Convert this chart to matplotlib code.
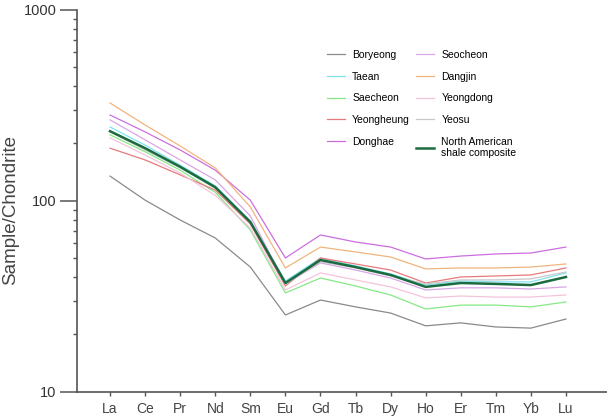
import numpy as np
import matplotlib
matplotlib.use('Agg')
import matplotlib.pyplot as plt

plt.rcParams['font.family'] = ['Liberation Sans', 'DejaVu Sans']

elements = ['La', 'Ce', 'Pr', 'Nd', 'Sm', 'Eu', 'Gd', 'Tb', 'Dy', 'Ho', 'Er', 'Tm', 'Yb', 'Lu']

boryeong   = [135, 101, 79.5, 64, 45.1, 25.3, 30.3, 27.9, 25.9, 22.2, 23.0, 21.9, 21.6, 24.1]
taean      = [244, 196, 154, 120, 78.6, 38.1, 50.3, 45.7, 41.5, 36.3, 38.1, 37.7, 37.7, 42.0]
saecheon   = [222, 181, 145, 111, 70.5, 33.0, 39.5, 35.9, 32.2, 27.2, 28.5, 28.5, 27.9, 29.6]
yeongheung = [189, 164, 137, 114, 75.8, 35.9, 50.3, 46.8, 43.5, 37.2, 40.0, 40.5, 41.0, 44.6]
donghae    = [282, 230, 185, 145, 101, 50.3, 66.4, 61.0, 57.4, 49.7, 51.5, 52.8, 53.4, 57.4]
seocheon   = [266, 209, 164, 129, 83.5, 36.8, 47.4, 43.5, 39.5, 34.2, 35.1, 35.1, 34.6, 35.5]
dangjin    = [326, 250, 194, 149, 93, 44.6, 57.4, 54.1, 50.9, 44.1, 44.6, 44.6, 45.1, 46.8]
yeongdong  = [214, 174, 140, 107, 72.2, 34.2, 42.0, 38.6, 35.5, 31.1, 31.8, 31.4, 31.4, 32.2]
yeosu      = [230, 185, 149, 117, 77.6, 36.8, 48.0, 44.6, 40.5, 36.8, 38.6, 38.6, 39.1, 42.5]
nasc       = [232, 189, 151, 118, 77.6, 37.2, 49.1, 45.1, 41.0, 35.5, 37.2, 36.8, 36.3, 40.0]

series = [
    ('Boryeong', boryeong, '#8a8a8a', 0.9),
    ('Taean', taean, '#7fe3f0', 0.9),
    ('Saecheon', saecheon, '#86e886', 0.9),
    ('Yeongheung', yeongheung, '#e87a7a', 0.9),
    ('Donghae', donghae, '#cc6ee0', 0.9),
    ('Seocheon', seocheon, '#d9a6e6', 0.9),
    ('Dangjin', dangjin, '#f0b47e', 0.9),
    ('Yeongdong', yeongdong, '#f4c4dc', 0.9),
    ('Yeosu', yeosu, '#c8c8c8', 0.9),
    ('North American\nshale composite', nasc, '#1c6b40', 1.8),
]

fig = plt.figure(figsize=(6.07, 4.2), dpi=100)
ax = fig.add_axes([0.127, 0.0667, 0.873, 0.9095])

x = np.arange(len(elements))
for name, vals, col, lw in series:
    ax.plot(x, vals, color=col, lw=lw, label=name)

ax.set_yscale('log')
ax.set_ylim(10, 1000)
ax.set_xlim(-0.94, 14.17)
ax.set_xticks(x)
ax.set_xticklabels(elements, fontsize=10, color='#444444')
ax.set_yticks([10, 100, 1000])
ax.set_yticklabels(['10', '100', '1000'], fontsize=10.5, color='#333333')

for s in ['top', 'right']:
    ax.spines[s].set_visible(False)
for s in ['left', 'bottom']:
    ax.spines[s].set_color('#555555')
    ax.spines[s].set_linewidth(1.2)

ax.tick_params(axis='y', which='major', length=12, width=1.1, color='#555555', direction='out', pad=3)
ax.tick_params(axis='y', which='minor', length=3, width=1.0, color='#555555', direction='out')
ax.tick_params(axis='x', which='major', length=3, width=1.0, color='#555555', direction='out', pad=4)
ax.tick_params(axis='x', which='minor', length=0)

ax.set_ylabel('Sample/Chondrite', fontsize=13.5, color='#444444', va='center')
ax.yaxis.set_label_coords(-0.125, 0.476)

ax.legend(loc='upper left', bbox_to_anchor=(0.539, 0.881), bbox_transform=fig.transFigure,
          ncol=2, frameon=False, borderpad=0, borderaxespad=0,
          prop={'size': 7.5},
          handlelength=1.7, columnspacing=0.6, labelspacing=1.12,
          handletextpad=0.7)

fig.savefig('out.png', dpi=100)
